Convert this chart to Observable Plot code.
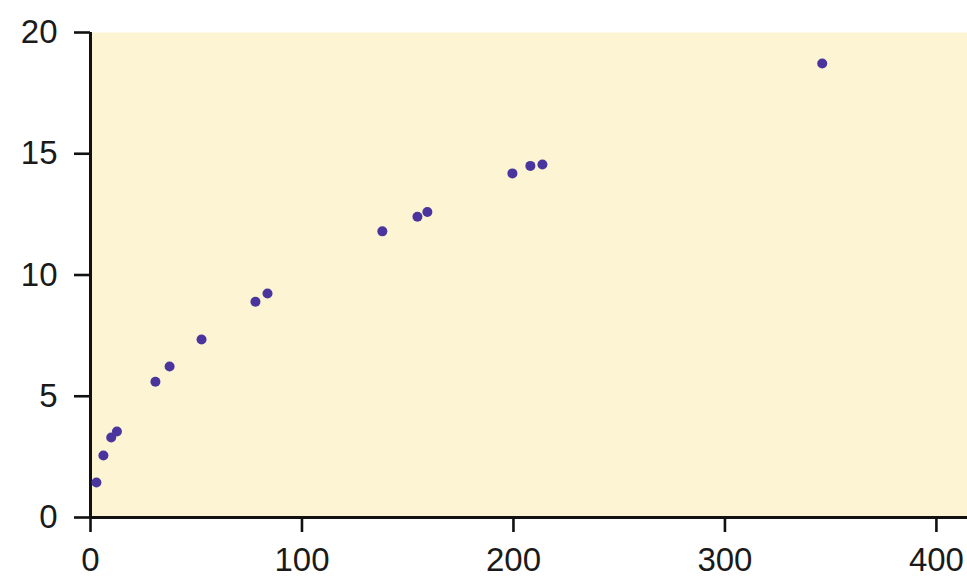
<!DOCTYPE html>
<html>
<head>
<meta charset="utf-8">
<script src="https://cdn.jsdelivr.net/npm/d3@7"></script>
<script src="https://cdn.jsdelivr.net/npm/@observablehq/plot@0.6"></script>
<style>
  html, body { margin: 0; padding: 0; background: #ffffff; }
  #chart { width: 967px; height: 579px; }
</style>
</head>
<body>
<div id="chart"></div>
<script>
// Data
const xValues = [2.8, 6.1, 9.8, 12.5, 30.7, 37.4, 52.5, 78, 83.7, 138, 154.6, 159.3, 199.5, 208, 213.7, 346];
const yValues = [1.44, 2.56, 3.3, 3.55, 5.6, 6.23, 7.34, 8.9, 9.24, 11.8, 12.4, 12.6, 14.19, 14.5, 14.56, 18.72];
const xTicks = [0, 100, 200, 300, 400];
const yTicks = [0, 5, 10, 15, 20];

const points = xValues.map((x, i) => ({x, y: yValues[i]}));

const chart = Plot.plot({
  width: 967,
  height: 579,
  marginLeft: 90,
  marginRight: 0,
  marginTop: 32,
  marginBottom: 62,
  style: {fontFamily: "'Liberation Sans', Arial, sans-serif", background: "#ffffff"},
  x: {domain: [0, 414.7]},
  y: {domain: [0, 20]},
  marks: [
    Plot.frame({fill: "#fdf4d3", stroke: null}),
    Plot.axisX({ticks: xTicks, tickSize: 15, tickPadding: 15, fontSize: 33, stroke: "#111", strokeWidth: 2.6, color: "#1a1a1a", label: null}),
    Plot.axisY({ticks: yTicks, tickSize: 16, tickPadding: 17, fontSize: 33, stroke: "#111", strokeWidth: 2.6, color: "#1a1a1a", label: null}),
    Plot.ruleY([0], {stroke: "#111", strokeWidth: 3}),
    Plot.ruleX([0], {stroke: "#111", strokeWidth: 3}),
    Plot.dot(points, {x: "x", y: "y", r: 5, fill: "#4a359e", stroke: null})
  ]
});
document.getElementById("chart").appendChild(chart);
</script>
</body>
</html>
